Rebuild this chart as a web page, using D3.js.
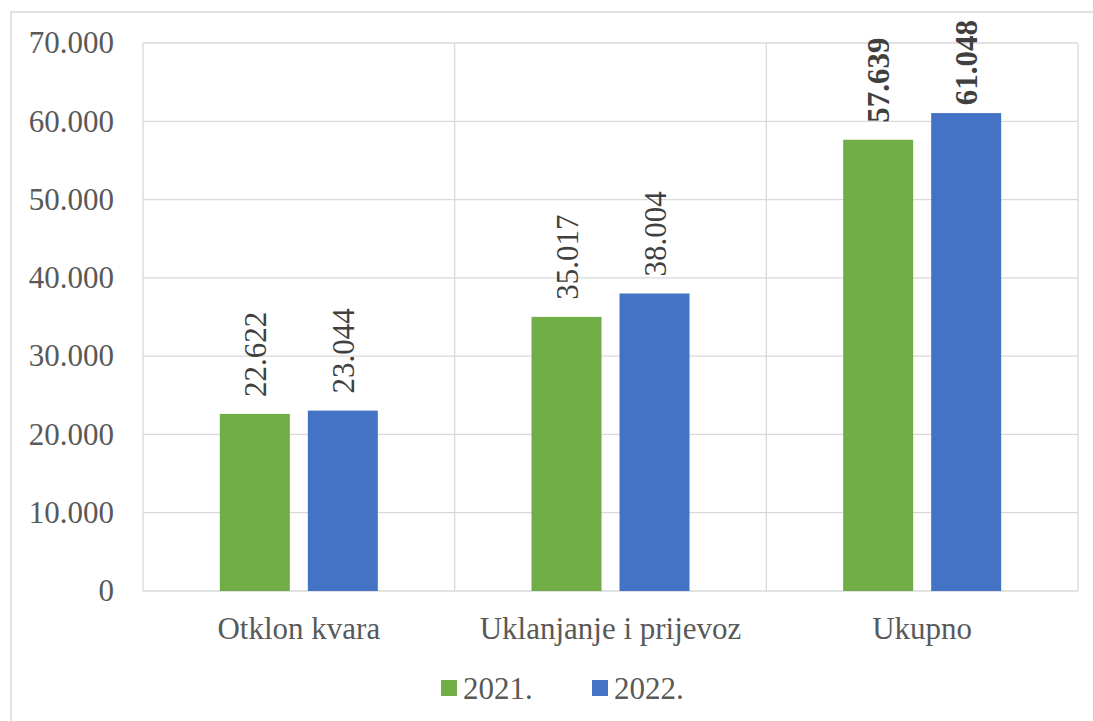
<!DOCTYPE html>
<html><head><meta charset="utf-8">
<script src="https://cdn.jsdelivr.net/npm/d3@7"></script>
<style>body{margin:0;background:#fff}svg{display:block}svg text{font-family:"Liberation Serif","Times New Roman",serif}</style>
</head><body>
<svg id="c" width="1093" height="721"></svg>
<script>
const categories = ["Otklon kvara", "Uklanjanje i prijevoz", "Ukupno"];
const seriesNames = ["2021.", "2022."];
const values2021 = [22622, 35017, 57639];
const values2022 = [23044, 38004, 61048];
const yTicks = [0, 10000, 20000, 30000, 40000, 50000, 60000, 70000];
const colors = ["#70AD47", "#4472C4"];

const svg = d3.select("#c");
const font = "Liberation Serif";
const L = 143, R = 1078, T = 43, B = 591;
const FS = "31px";

svg.append("rect").attr("x", 11).attr("y", 12).attr("width", 1100).attr("height", 720)
  .attr("fill", "#fff").attr("stroke", "#d9d9d9").attr("stroke-width", 1.5);

const x = d3.scaleBand().domain(categories).range([L, R]);
const y = d3.scaleLinear().domain([0, 70000]).range([B, T]);
const fmt = v => v === 0 ? "0" : d3.format(",")(v).replace(/,/g, ".");

// grid
svg.append("g").selectAll("line").data(yTicks).join("line")
  .attr("x1", L).attr("x2", R).attr("y1", d => y(d)).attr("y2", d => y(d))
  .attr("stroke", "#d9d9d9").attr("stroke-width", 1.3);
const vlines = [L, ...categories.map(c => x(c) + x.bandwidth())];
svg.append("g").selectAll("line").data(vlines).join("line")
  .attr("x1", d => d).attr("x2", d => d).attr("y1", T).attr("y2", B)
  .attr("stroke", "#d9d9d9").attr("stroke-width", 1.3);

// y axis labels
svg.append("g").selectAll("text").data(yTicks).join("text")
  .attr("x", 114).attr("y", d => y(d)).attr("dy", "0.33em")
  .attr("text-anchor", "end").style("font-family", font).style("font-size", FS)
  .attr("fill", "#595959").text(fmt);

// bars
const barW = 70, gap = 18;
const series = [values2021, values2022];
series.forEach((vals, si) => {
  const g = svg.append("g");
  const bx = c => x(c) + x.bandwidth() / 2 + (si === 0 ? -(gap / 2 + barW) : gap / 2);
  g.selectAll("rect").data(categories).join("rect")
    .attr("x", c => bx(c)).attr("width", barW)
    .attr("y", (c, i) => y(vals[i])).attr("height", (c, i) => B - y(vals[i]))
    .attr("fill", colors[si]);
  g.selectAll("text").data(categories).join("text")
    .attr("text-anchor", "start").style("font-family", font).style("font-size", FS)
    .style("font-weight", (c, i) => i === 2 ? "bold" : "normal")
    .attr("fill", "#404040")
    .text((c, i) => fmt(vals[i]))
    .attr("transform", function (c, i) {
      const len = this.getComputedTextLength();
      const start = Math.max(y(vals[i]) - 17, 20 + len);
      return `translate(${bx(c) + barW / 2 + 11},${start}) rotate(-90)`;
    });
});

// category labels
svg.append("g").selectAll("text").data(categories).join("text")
  .attr("x", c => x(c) + x.bandwidth() / 2).attr("y", 639)
  .attr("text-anchor", "middle").style("font-family", font).style("font-size", FS)
  .attr("fill", "#595959").text(c => c);

// legend
const legX = [441, 592];
seriesNames.forEach((n, i) => {
  svg.append("rect").attr("x", legX[i]).attr("y", 680).attr("width", 16).attr("height", 16).attr("fill", colors[i]);
  svg.append("text").attr("x", legX[i] + 22).attr("y", 699).style("font-family", font).style("font-size", FS)
    .attr("fill", "#595959").text(n);
});
</script>
</body></html>
